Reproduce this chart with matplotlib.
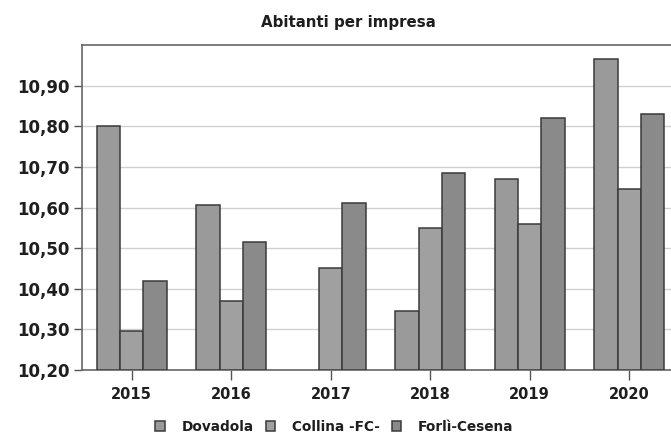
import numpy as np
import matplotlib
matplotlib.use("Agg")
import matplotlib.pyplot as plt

years = ["2015", "2016", "2017", "2018", "2019", "2020"]
dovadola = [10.80, 10.605, np.nan, 10.345, 10.67, 10.965]
collina = [10.295, 10.37, 10.45, 10.55, 10.56, 10.645]
forli = [10.42, 10.515, 10.61, 10.685, 10.82, 10.83]
series_names = ["Dovadola", "Collina -FC-", "Forlì-Cesena"]
yticks = [10.20, 10.30, 10.40, 10.50, 10.60, 10.70, 10.80, 10.90]

plt.rcParams["font.family"] = "DejaVu Sans"

fig = plt.figure(figsize=(6.71, 4.33), dpi=100)
ax = fig.add_axes([82 / 671, 1 - 370 / 433, 597 / 671, 325 / 433])

x = np.arange(len(years))
w = 0.235
colors = ["#9a9a9a", "#a0a0a0", "#8a8a8a"]
for i, (vals, name) in enumerate(zip([dovadola, collina, forli], series_names)):
    vals = np.array(vals)
    ax.bar(x + (i - 1) * w, vals - 10.2, width=w, bottom=10.2, color=colors[i],
           edgecolor="#3a3a3a", linewidth=1.1, label=name, zorder=3)

ax.set_xlim(-0.5, 5.5)
ax.set_ylim(10.2, 11.0)
ax.set_yticks(yticks)
ax.set_yticklabels([f"{v:.2f}".replace(".", ",") for v in yticks],
                   fontsize=12, fontweight="bold", color="#1e1e1e")
ax.set_xticks(x)
ax.set_xticklabels(years, fontsize=10.5, fontweight="bold", color="#1e1e1e")
ax.tick_params(axis="y", length=6, width=1, color="#555555", pad=3)
ax.tick_params(axis="x", length=7, width=1, color="#555555", pad=5)
ax.grid(axis="y", color="#d0d0d0", linewidth=1.0, zorder=0)

for side in ["top", "left", "bottom"]:
    ax.spines[side].set_color("#666666")
    ax.spines[side].set_linewidth(1.2)
ax.spines["right"].set_visible(False)

fig.text(348 / 671, 1 - 22 / 433, "Abitanti per impresa", ha="center", va="center",
         fontsize=10.8, fontweight="bold", color="#1e1e1e")

leg = fig.legend(loc="center left", bbox_to_anchor=(150 / 671, 1 - 427 / 433), ncol=3,
                 frameon=False, fontsize=9.8, handlelength=0.7, handleheight=0.7,
                 columnspacing=0.9, handletextpad=1.2, borderaxespad=0)
for t in leg.get_texts():
    t.set_fontweight("bold")
    t.set_color("#1e1e1e")

fig.savefig("out.png", dpi=100, facecolor="white")
